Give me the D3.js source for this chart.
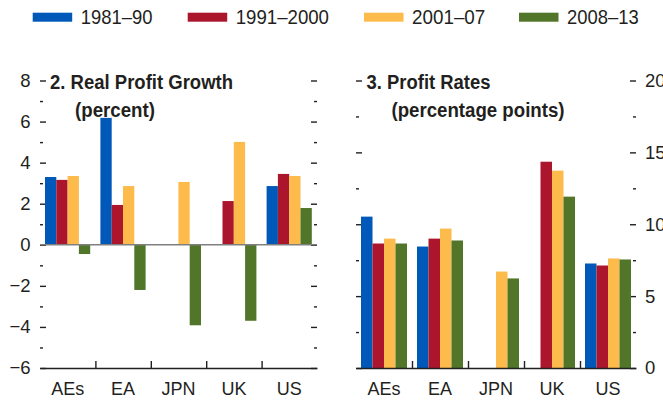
<!DOCTYPE html>
<html>
<head>
<meta charset="utf-8">
<script src="https://cdn.jsdelivr.net/npm/d3@7"></script>
<style>
  body { margin: 0; background: #fff; }
  svg text { font-family: "Liberation Sans", Arial, sans-serif; fill: #231f20; }
</style>
</head>
<body>
<div id="chart"></div>
<script>
// data
var categories = ["AEs", "EA", "JPN", "UK", "US"];
var seriesNames = ["1981\u201390", "1991\u20132000", "2001\u201307", "2008\u201313"];
var colors = ["#0058b8", "#ac162c", "#fdbb4b", "#517529"];

// Real profit growth, percent (one array per series, in category order)
var growth8190 = [3.30, 6.18, null, null, 2.86];
var growth9100 = [3.16, 1.94, null, 2.13, 3.45];
var growth0107 = [3.35, 2.86, 3.06, 5.01, 3.35];
var growth0813 = [-0.45, -2.2, -3.92, -3.7, 1.79];

// Profit rates, percentage points
var rate8190 = [10.53, 8.45, null, null, 7.27];
var rate9100 = [8.66, 9.0, null, 14.35, 7.13];
var rate0107 = [9.0, 9.7, 6.71, 13.73, 7.62];
var rate0813 = [8.66, 8.87, 6.23, 11.92, 7.55];

var growthTicks = [-6, -4, -2, 0, 2, 4, 6, 8];
var growthMinor = [-5, -3, -1, 1, 3, 5, 7];
var rateTicks = [0, 5, 10, 15, 20];
var rateMinor = [2.5, 7.5, 12.5, 17.5];

var svgWidth = 663, svgHeight = 402;
var yTop = 80.5, yBottom = 368;

var svg = d3.select("#chart").append("svg")
    .attr("width", svgWidth)
    .attr("height", svgHeight);

// squeeze a text to a given width (the original uses a condensed face)
function squeeze(sel, w) {
    sel.attr("textLength", w).attr("lengthAdjust", "spacingAndGlyphs");
}

// legend
var legend = svg.append("g");
var legendX = [32.7, 187.7, 364, 519];
var legendW = [71.7, 93.3, 73.3, 71.7];
seriesNames.forEach(function(name, i) {
    legend.append("rect")
        .attr("x", legendX[i]).attr("y", 12.7)
        .attr("width", 39.5).attr("height", 9)
        .attr("fill", colors[i]);
    legend.append("text")
        .attr("x", legendX[i] + 48).attr("y", 24)
        .style("font-size", "21px")
        .text(name)
        .call(squeeze, legendW[i]);
});

function fmt(d) { return d < 0 ? "\u2212" + Math.abs(d) : "" + d; }

function drawPanel(opt) {
    var g = svg.append("g");
    var series = opt.series;

    var x = d3.scaleBand().domain(categories).range([opt.x0, opt.x1]).padding(0);
    var xInner = d3.scaleBand().domain(d3.range(series.length))
        .range([5, 5 + 4 * opt.barW]);
    var y = d3.scaleLinear().domain(opt.domain).range([yBottom, yTop]);

    // left and right tick axes (ticks pointing inward)
    var leftMajor = d3.axisLeft(y).tickValues(opt.ticks).tickSizeInner(-6).tickSizeOuter(0).tickPadding(9.5)
        .tickFormat(opt.labelsLeft ? fmt : "");
    var leftMinor = d3.axisLeft(y).tickValues(opt.minor).tickSizeInner(-3).tickSizeOuter(0).tickFormat("");
    var rightMajor = d3.axisRight(y).tickValues(opt.ticks).tickSizeInner(-6).tickSizeOuter(0).tickPadding(9)
        .tickFormat(opt.labelsLeft ? "" : fmt);
    var rightMinor = d3.axisRight(y).tickValues(opt.minor).tickSizeInner(-3).tickSizeOuter(0).tickFormat("");

    [[leftMajor, opt.x0], [leftMinor, opt.x0], [rightMajor, opt.x1], [rightMinor, opt.x1]].forEach(function(a) {
        var ax = g.append("g")
            .attr("transform", "translate(" + a[1] + ",0)")
            .call(a[0]);
        ax.select(".domain").remove();
        ax.selectAll("line").attr("stroke", "#231f20").attr("stroke-width", 1.4);
        ax.selectAll("text").style("font-size", "18.5px").attr("fill", "#231f20");
    });

    // bars
    series.forEach(function(vals, si) {
        g.append("g").selectAll("rect")
            .data(vals.map(function(v, ci) { return {cat: categories[ci], v: v}; }).filter(function(d) { return d.v !== null; }))
            .enter()
            .append("rect")
            .attr("x", function(d) { return x(d.cat) + xInner(si); })
            .attr("width", xInner.bandwidth())
            .attr("y", function(d) { return y(Math.max(0, d.v)); })
            .attr("height", function(d) { return Math.abs(y(d.v) - y(0)); })
            .attr("fill", colors[si]);
    });

    // zero line
    if (opt.domain[0] < 0) {
        g.append("line")
            .attr("x1", opt.x0).attr("x2", opt.x1)
            .attr("y1", y(0)).attr("y2", y(0))
            .attr("stroke", "#808080").attr("stroke-width", 1.5);
    }

    // bottom axis with category dividers
    var dividers = categories.slice(1).map(function(c) { return x(c); });
    var divAxis = g.append("g")
        .attr("transform", "translate(0," + yBottom + ")")
        .call(d3.axisBottom(d3.scaleLinear().domain([opt.x0, opt.x1]).range([opt.x0, opt.x1]))
            .tickValues(dividers).tickSizeInner(-7).tickSizeOuter(0).tickFormat(""));
    divAxis.selectAll("line").attr("stroke", "#231f20").attr("stroke-width", 1.4);
    divAxis.select(".domain").attr("stroke", "#231f20").attr("stroke-width", 1.6);

    var catAxis = g.append("g")
        .attr("transform", "translate(0," + yBottom + ")")
        .call(d3.axisBottom(x).tickSize(0).tickPadding(14.5));
    catAxis.select(".domain").remove();
    catAxis.selectAll("text").style("font-size", "18px").attr("fill", "#231f20");

    // title
    g.append("text")
        .attr("x", opt.titleX).attr("y", 89)
        .style("font-size", "20px").style("font-weight", "bold")
        .text(opt.title1)
        .call(squeeze, opt.titleW);
    g.append("text")
        .attr("x", opt.titleX2).attr("y", 116.5)
        .style("font-size", "20px").style("font-weight", "bold")
        .text(opt.title2)
        .call(squeeze, opt.titleW2);
}

drawPanel({
    x0: 40, x1: 317, barW: 11.3,
    domain: [-6, 8], ticks: growthTicks, minor: growthMinor, labelsLeft: true,
    series: [growth8190, growth9100, growth0107, growth0813],
    title1: "2. Real Profit Growth", title2: "(percent)",
    titleX: 50, titleX2: 75, titleW: 183, titleW2: 80
});

drawPanel({
    x0: 356, x1: 636, barW: 11.5,
    domain: [0, 20], ticks: rateTicks, minor: rateMinor, labelsLeft: false,
    series: [rate8190, rate9100, rate0107, rate0813],
    title1: "3. Profit Rates", title2: "(percentage points)",
    titleX: 366.5, titleX2: 391.5, titleW: 124, titleW2: 173
});
</script>
</body>
</html>
